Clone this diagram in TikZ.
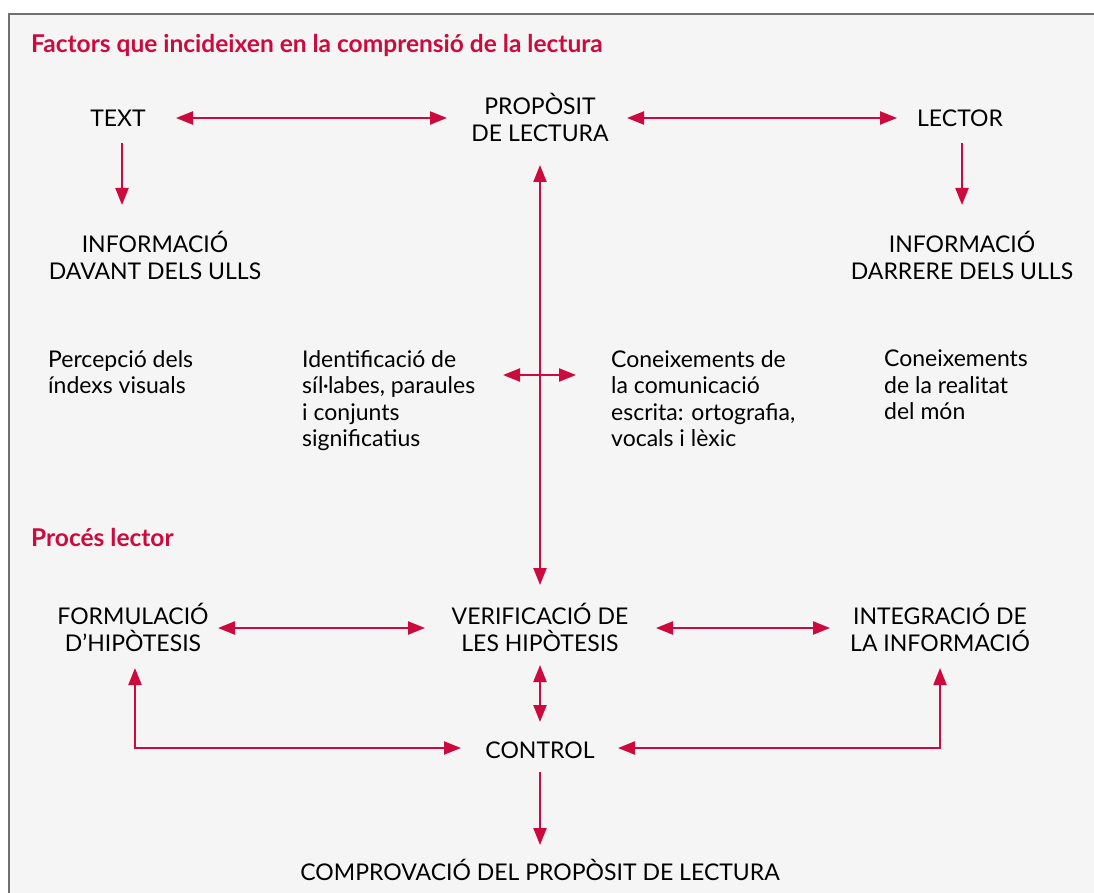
\documentclass[tikz,border=0pt]{standalone}
\usepackage{fontspec}
\setmainfont{Lato}
\usetikzlibrary{arrows.meta,calc}
\definecolor{crim}{HTML}{CC0A3E}
\definecolor{bg}{HTML}{F5F5F5}
\definecolor{frame}{HTML}{707070}
\tikzset{
  lbl/.style={font=\fontsize{23pt}{27pt}\selectfont, text=black, align=center, inner sep=0pt},
  lblL/.style={font=\fontsize{23pt}{26.5pt}\selectfont, text=black, align=left, inner sep=0pt, anchor=north west},
  head/.style={font=\bfseries\fontsize{24.5pt}{27pt}\selectfont, text=crim, inner sep=0pt, anchor=base west},
  con/.style={draw=crim, line width=2.2pt, -{Triangle[length=17pt,width=13pt]}},
  con2/.style={draw=crim, line width=2.2pt, {Triangle[length=17pt,width=13pt]}-{Triangle[length=17pt,width=13pt]}},
}
\begin{document}
\begin{tikzpicture}[x=1pt,y=-1pt]
\useasboundingbox (0,0) rectangle (1094,893);
\fill[bg] (9,14) rectangle (1094,893);
\draw[frame, line width=1.6pt] (9,893) -- (9,14) -- (1094,14);

\node[head] (h1) at (31,53) {Factors que incideixen en la comprensió de la lectura};
\node[head] (h2) at (31,546) {Procés lector};

\node[lbl] (text) at (118,118) {TEXT};
\node[lbl] (prop) at (540,117) {PROPÒSIT\\DE LECTURA};
\node[lbl] (lector) at (960,118) {LECTOR};
\node[lbl] (infoA) at (155,255) {INFORMACIÓ\\DAVANT DELS ULLS};
\node[lbl] (infoB) at (962,255) {INFORMACIÓ\\DARRERE DELS ULLS};

\node[lblL] (perc) at (48,350) {Percepció dels\\índexs visuals};
\node[lblL] (idsil) at (302,350) {Identificació de\\síl·labes, paraules\\i conjunts\\significatius};
\node[lblL] (conn) at (611,350) {Coneixements de\\la comunicació\\escrita: ortografia,\\vocals i lèxic};
\node[lblL] (real) at (884,350) {Coneixements\\de la realitat\\del món};

\node[lbl] (form) at (133,627) {FORMULACIÓ\\D’HIPÒTESIS};
\node[lbl] (verif) at (540,627) {VERIFICACIÓ DE\\LES HIPÒTESIS};
\node[lbl] (integ) at (940,627) {INTEGRACIÓ DE\\LA INFORMACIÓ};
\node[lbl] (control) at (540,750) {CONTROL};
\node[lbl] (comp) at (540,870) {COMPROVACIÓ DEL PROPÒSIT DE LECTURA};

\draw[con2] ($(text)+(58,0)$) -- ($(prop)+(-93,1)$);
\draw[con2] ($(prop)+(87,1)$) -- ($(lector)+(-63,0)$);
\draw[con] ($(text)+(4,25)$) -- ($(infoA)+(-33,-50)$);
\draw[con] ($(lector)+(2,25)$) -- ($(infoB)+(0,-50)$);
\draw[con2] ($(prop)+(0,48)$) -- ($(verif)+(0,-42)$);
\draw[con2] ($(idsil.north west)+(201,25)$) -- ($(conn.north west)+(-35,25)$);

\draw[con2] ($(form)+(85,1)$) -- ($(verif)+(-115,1)$);
\draw[con2] ($(verif)+(116,1)$) -- ($(integ)+(-110,1)$);
\draw[con2] ($(verif)+(0,38)$) -- ($(control)+(0,-28)$);
\draw[con2] ($(form)+(2,41)$) |- ($(control)+(-79,-2)$);
\draw[con2] ($(integ)+(0,41)$) |- ($(control)+(78,-2)$);
\draw[con] ($(control)+(0,22)$) -- ($(comp)+(0,-25)$);
\end{tikzpicture}
\end{document}
